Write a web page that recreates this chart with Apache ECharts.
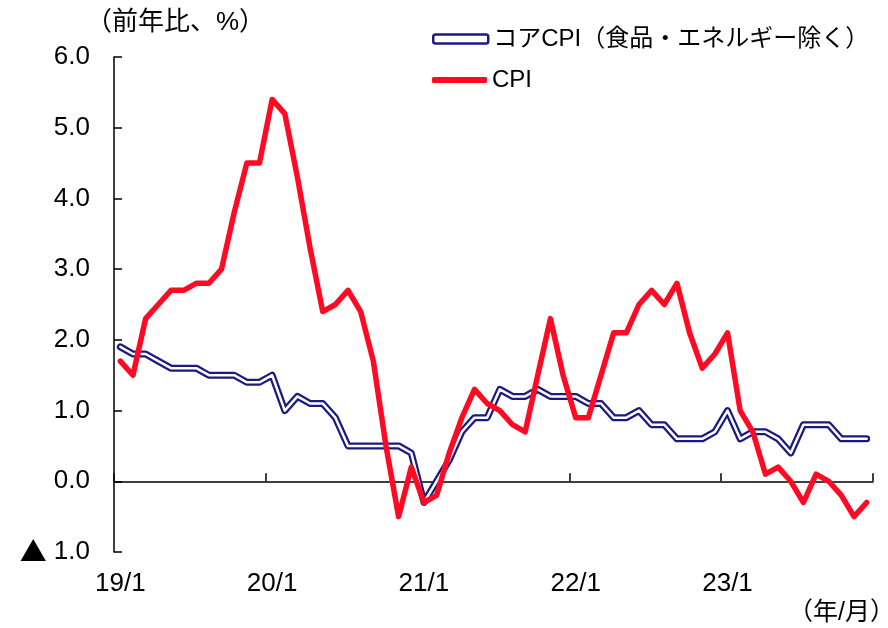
<!DOCTYPE html>
<html>
<head>
<meta charset="utf-8">
<script src="https://cdn.jsdelivr.net/npm/echarts@6/dist/echarts.min.js"></script>
<style>
  html, body { margin: 0; padding: 0; background: #fff; }
  #chartmain { width: 888px; height: 628px; }
</style>
</head>
<body>
<div id="chartmain"></div>
<script>
// 月次（19/1～23/12）
var months = [
  '19/1','19/2','19/3','19/4','19/5','19/6','19/7','19/8','19/9','19/10','19/11','19/12',
  '20/1','20/2','20/3','20/4','20/5','20/6','20/7','20/8','20/9','20/10','20/11','20/12',
  '21/1','21/2','21/3','21/4','21/5','21/6','21/7','21/8','21/9','21/10','21/11','21/12',
  '22/1','22/2','22/3','22/4','22/5','22/6','22/7','22/8','22/9','22/10','22/11','22/12',
  '23/1','23/2','23/3','23/4','23/5','23/6','23/7','23/8','23/9','23/10','23/11','23/12'
];
// コアCPI（食品・エネルギー除く）
var coreCpi = [
  1.9, 1.8, 1.8, 1.7, 1.6, 1.6, 1.6, 1.5, 1.5, 1.5, 1.4, 1.4,
  1.5, 1.0, 1.2, 1.1, 1.1, 0.9, 0.5, 0.5, 0.5, 0.5, 0.5, 0.4,
  -0.3, 0.0, 0.3, 0.7, 0.9, 0.9, 1.3, 1.2, 1.2, 1.3, 1.2, 1.2,
  1.2, 1.1, 1.1, 0.9, 0.9, 1.0, 0.8, 0.8, 0.6, 0.6, 0.6, 0.7,
  1.0, 0.6, 0.7, 0.7, 0.6, 0.4, 0.8, 0.8, 0.8, 0.6, 0.6, 0.6
];
// CPI
var cpi = [
  1.7, 1.5, 2.3, 2.5, 2.7, 2.7, 2.8, 2.8, 3.0, 3.8, 4.5, 4.5,
  5.4, 5.2, 4.3, 3.3, 2.4, 2.5, 2.7, 2.4, 1.7, 0.5, -0.5, 0.2,
  -0.3, -0.2, 0.4, 0.9, 1.3, 1.1, 1.0, 0.8, 0.7, 1.5, 2.3, 1.5,
  0.9, 0.9, 1.5, 2.1, 2.1, 2.5, 2.7, 2.5, 2.8, 2.1, 1.6, 1.8,
  2.1, 1.0, 0.7, 0.1, 0.2, 0.0, -0.3, 0.1, 0.0, -0.2, -0.5, -0.3
];
var yMin = -1, yMax = 6, yStep = 1;

var coreName = 'コアCPI（食品・エネルギー除く）';
var cpiName = 'CPI';
var navy = '#1a1a80', red = '#ff0a23';
var font = "'Liberation Sans', 'Noto Sans CJK JP', sans-serif";

var myChart = echarts.init(document.getElementById('chartmain'));
myChart.setOption({
  animation: false,
  backgroundColor: '#fff',
  grid: { left: 114, right: 15, top: 57, bottom: 76 },
  textStyle: { fontFamily: font, color: '#000' },
  legend: [{
    left: 432, top: 27, padding: 0,
    itemWidth: 55, itemHeight: 9,
    textStyle: { fontSize: 24, color: '#000', fontFamily: font },
    data: [{ name: coreName, icon: 'roundRect',
      itemStyle: { color: '#fff', borderColor: navy, borderWidth: 2.5 } }]
  }, {
    left: 432, top: 68, padding: 0,
    itemWidth: 55, itemHeight: 6,
    textStyle: { fontSize: 24, color: '#000', fontFamily: font },
    data: [{ name: cpiName, icon: 'roundRect', itemStyle: { color: red } }]
  }],
  xAxis: [{
    // 目盛ラベルは下端に
    type: 'category', data: months, boundaryGap: true, position: 'bottom',
    axisLine: { show: false, onZero: false },
    axisTick: { show: false },
    axisLabel: { interval: 11, margin: 19, fontSize: 26, color: '#000', fontFamily: font }
  }, {
    // 0の位置の軸線
    type: 'category', data: months, boundaryGap: true, position: 'bottom',
    axisLine: { show: true, onZero: true, lineStyle: { color: '#000', width: 1.5 } },
    axisTick: { show: true, inside: true, interval: 11, length: 8, lineStyle: { color: '#000', width: 1.5 } },
    axisLabel: { show: false }
  }],
  yAxis: {
    type: 'value', min: yMin, max: yMax, interval: yStep,
    axisLine: { show: true, lineStyle: { color: '#000', width: 1.5 } },
    axisTick: { show: true, inside: true, length: 8, lineStyle: { color: '#000', width: 1.5 } },
    splitLine: { show: false },
    axisLabel: {
      margin: 24, fontSize: 26, color: '#000', fontFamily: font,
      formatter: function (v) {
        return v < 0 ? '{tri|▲} ' + Math.abs(v).toFixed(1) : v.toFixed(1);
      },
      rich: {
        tri: { fontSize: 27, fontFamily: "'Noto Sans CJK JP'", color: '#000' }
      }
    }
  },
  graphic: [{
    type: 'text', left: 86, top: 10,
    style: { text: '（前年比、%）', font: '26px ' + font, fill: '#000' }
  }, {
    type: 'text', left: 788, top: 601,
    style: { text: '（年/月）', font: '25px ' + font, fill: '#000' }
  }],
  series: [{
    name: coreName, type: 'line', data: coreCpi, symbol: 'none', z: 2,
    lineStyle: { color: navy, width: 7, join: 'round', cap: 'round' },
    itemStyle: { color: navy }
  }, {
    name: 'core_inner', type: 'line', data: coreCpi, symbol: 'none', z: 3,
    lineStyle: { color: '#fff', width: 2.5, join: 'round', cap: 'round' },
    itemStyle: { color: '#fff' }
  }, {
    name: cpiName, type: 'line', data: cpi, symbol: 'none', z: 4,
    lineStyle: { color: red, width: 5.5, join: 'round', cap: 'round' },
    itemStyle: { color: red }
  }]
});
</script>
</body>
</html>
